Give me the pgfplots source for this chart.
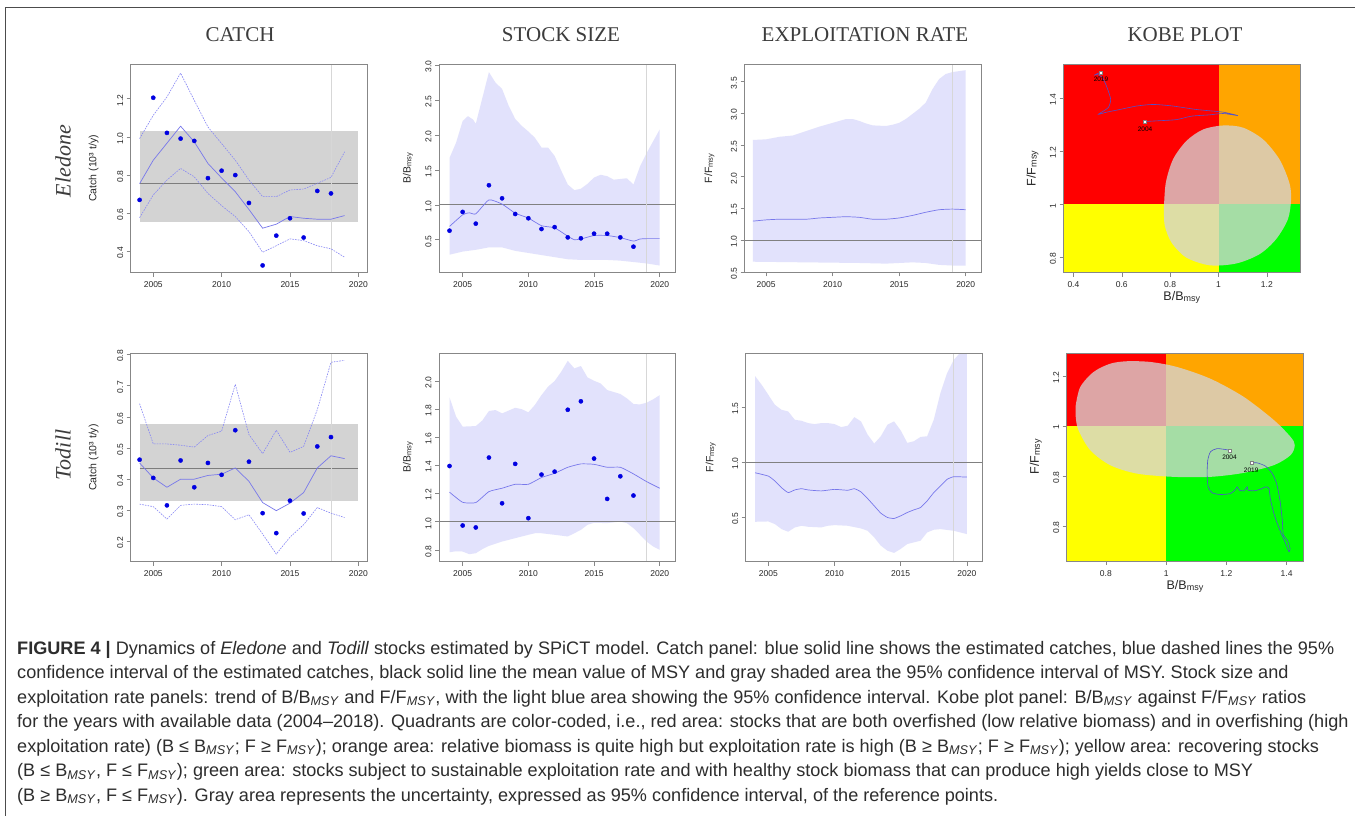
\documentclass[border=0pt]{standalone}
\usepackage{fontspec}
\setmainfont{Liberation Sans}
\newfontfamily\serifT{Liberation Serif}
\usepackage{pgfplots}
\pgfplotsset{compat=1.18}
\definecolor{band}{RGB}{226,226,252}
\definecolor{estline}{RGB}{120,120,235}
\definecolor{ciline}{RGB}{135,135,245}
\definecolor{ptblue}{RGB}{0,0,225}
\definecolor{msybox}{RGB}{211,211,211}
\definecolor{msyline}{RGB}{125,125,125}
\definecolor{refgray}{RGB}{128,128,128}
\definecolor{vgray}{RGB}{215,215,215}
\definecolor{framec}{RGB}{135,135,135}
\definecolor{txt}{RGB}{40,40,40}
\definecolor{kred}{RGB}{255,0,0}
\definecolor{korange}{RGB}{255,165,0}
\definecolor{kyellow}{RGB}{255,255,0}
\definecolor{kgreen}{RGB}{0,255,0}
\definecolor{ellgray}{RGB}{212,212,212}
\definecolor{traj}{RGB}{80,80,205}
\definecolor{captxt}{RGB}{45,45,45}
\definecolor{titletxt}{RGB}{60,60,60}
\newcommand\msy{\textsubscript{\textit{MSY}}}
\newcommand\Bm{B/B\raisebox{-0.8pt}{\fontsize{7.5}{8}\selectfont msy}}
\newcommand\Fm{F/F\raisebox{-0.8pt}{\fontsize{7.5}{8}\selectfont msy}}
\newcommand\Bk{B/B\raisebox{-1pt}{\fontsize{9}{10}\selectfont msy}}
\newcommand\Fk{F/F\raisebox{-1pt}{\fontsize{9}{10}\selectfont msy}}

\pgfplotsset{
  panel/.style={
    scale only axis, width=236.5pt, height=208pt,
    axis on top, clip=true,
    axis line style={framec, line width=0.6pt},
    tick style={framec, line width=0.5pt},
    tick align=outside, major tick length=4pt,
    xtick pos=bottom, ytick pos=left,
    /pgf/number format/assume math mode=true,
    ticklabel style={font=\fontsize{8.5}{9}\selectfont, text=txt},
    xticklabel style={yshift=-2pt},
    yticklabel style={rotate=90, anchor=south, xshift=-1.5pt},
    ylabel style={at={(axis description cs:0,0.5)}, anchor=center, font=\fontsize{10.5}{12}\selectfont, text=txt},
  },
  timepanel/.style={panel,
    xtick={2005,2010,2015,2020},
    /pgf/number format/1000 sep={},
    yticklabel style={/pgf/number format/fixed, /pgf/number format/fixed zerofill, /pgf/number format/precision=1},
  },
  kobe/.style={panel,
    xlabel style={at={(axis description cs:0.5,0)}, anchor=center, yshift=-25pt, font=\fontsize{12.5}{14}\selectfont, text=txt},
    ylabel style={yshift=31pt, font=\fontsize{12.5}{14}\selectfont},
    xlabel={\Bk}, ylabel={\Fk},
  },
  pts/.style={only marks, mark=*, mark size=2.1pt, ptblue, mark options={draw=ptblue, fill=ptblue}},
  est/.style={estline, line width=0.7pt, smooth, tension=0.3},
  ci/.style={ciline, line width=0.6pt, dash pattern=on 1.6pt off 1.1pt},
  refl/.style={refgray, line width=0.6pt},
  vl/.style={vgray, line width=0.6pt},
  bandfill/.style={fill=band, draw=none},
}

\begin{document}
\begin{tikzpicture}
\path[use as bounding box] (0pt,0pt) rectangle (1355pt,-816pt);
\fill[white] (0pt,0pt) rectangle (1355pt,-816pt);
\draw[gray!60!black, line width=0.8pt] (5pt,-816pt) -- (5pt,-7.5pt) -- (1355pt,-7.5pt);

% column titles
\begin{scope}[every node/.style={font=\serifT\fontsize{21}{24}\selectfont, text=titletxt}]
\node at (240pt,-35pt) {CATCH};
\node at (561pt,-35pt) {STOCK SIZE};
\node at (865pt,-35pt) {EXPLOITATION RATE};
\node at (1185pt,-35pt) {KOBE PLOT};
\end{scope}
% row labels
\node[rotate=90, font=\serifT\itshape\fontsize{22}{24}\selectfont, text=titletxt] at (63pt,-161pt) {Eledone};
\node[rotate=90, font=\serifT\itshape\fontsize{22}{24}\selectfont, text=titletxt] at (63pt,-455pt) {Todill};

% ===== P1: Eledone catch
\begin{axis}[timepanel, at={(130.7pt,-64.5pt)}, anchor=north west,
  xmin=2003.35, xmax=2020.65, ymin=0.29, ymax=1.379,
  ytick={0.4,0.6,0.8,1.0,1.2},
  ylabel={Catch (10³ t/y)}, ylabel style={yshift=37pt}]
\addplot[fill=msybox, draw=none] coordinates {(2004,0.557) (2020,0.557) (2020,1.030) (2004,1.030)} -- cycle;
\addplot[msyline, line width=0.7pt] coordinates {(2004,0.758) (2020,0.758)};
\addplot[vl] coordinates {(2018,0) (2018,2)};
\addplot[ci] coordinates {(2004,0.991)(2005,1.113)(2006,1.209)(2007,1.334)(2008,1.191)(2009,1.052)(2010,0.965)(2011,0.878)(2012,0.774)(2013,0.687)(2014,0.687)(2015,0.722)(2016,0.727)(2017,0.757)(2018,0.788)(2019,0.922)};
\addplot[ci] coordinates {(2004,0.577)(2005,0.696)(2006,0.774)(2007,0.835)(2008,0.791)(2009,0.704)(2010,0.640)(2011,0.583)(2012,0.504)(2013,0.396)(2014,0.430)(2015,0.466)(2016,0.457)(2017,0.430)(2018,0.414)(2019,0.370)};
\addplot[estline, line width=0.7pt] coordinates {(2004,0.755)(2005,0.878)(2006,0.967)(2007,1.056)(2008,0.974)(2009,0.861)(2010,0.785)(2011,0.713)(2012,0.620)(2013,0.522)(2014,0.543)(2015,0.583)(2016,0.574)(2017,0.569)(2018,0.569)(2019,0.588)};
\addplot[pts] coordinates {(2004,0.670)(2005,1.205)(2006,1.021)(2007,0.991)(2008,0.979)(2009,0.784)(2010,0.823)(2011,0.800)(2012,0.654)(2013,0.327)(2014,0.483)(2015,0.574)(2016,0.473)(2017,0.717)(2018,0.704)};
\end{axis}

% ===== P2: Eledone B/Bmsy
\begin{axis}[timepanel, at={(439pt,-64.5pt)}, anchor=north west,
  xmin=2003.2, xmax=2021.2, ymin=0.03, ymax=3.01,
  ytick={0.5,1.0,1.5,2.0,2.5,3.0},
  ylabel={\Bm}, ylabel style={yshift=31pt}]
\addplot[bandfill] coordinates {(2004,1.67)(2004.5,1.89)(2005,2.20)(2005.4,2.27)(2005.8,2.22)(2006,2.16)(2006.5,2.53)(2007,2.90)(2007.5,2.75)(2008,2.66)(2008.5,2.42)(2009,2.23)(2009.5,2.13)(2010,2.05)(2010.5,1.96)(2011,1.82)(2011.5,1.82)(2012,1.70)(2012.5,1.49)(2013,1.29)(2013.5,1.21)(2014,1.23)(2014.5,1.30)(2015,1.39)(2015.5,1.43)(2016,1.41)(2016.5,1.36)(2017,1.37)(2017.5,1.38)(2018,1.29)(2018.5,1.55)(2019,1.74)(2019.5,1.91)(2020,2.08)
 (2020,0.13)(2019,0.16)(2018,0.18)(2017,0.20)(2016,0.21)(2015,0.21)(2014,0.21)(2013,0.22)(2012,0.25)(2011,0.28)(2010,0.31)(2009,0.34)(2008,0.39)(2007,0.39)(2006,0.355)(2005,0.33)(2004,0.285)} -- cycle;
\addplot[refl] coordinates {(2000,1) (2025,1)};
\addplot[vl] coordinates {(2019,-1) (2019,5)};
\addplot[est] coordinates {(2004,0.69)(2005,0.857)(2005.5,0.885)(2006,0.87)(2007,1.07)(2008,1.01)(2009,0.88)(2010,0.81)(2011,0.70)(2012,0.67)(2013,0.55)(2013.5,0.50)(2014,0.51)(2015,0.56)(2016,0.56)(2017,0.53)(2018,0.48)(2018.5,0.51)(2019,0.515)(2020,0.515)};
\addplot[pts] coordinates {(2004,0.629)(2005,0.898)(2006,0.730)(2007,1.280)(2008,1.093)(2009,0.868)(2010,0.807)(2011,0.653)(2012,0.680)(2013,0.533)(2014,0.520)(2015,0.586)(2016,0.586)(2017,0.533)(2018,0.400)};
\end{axis}

% ===== P3: Eledone F/Fmsy
\begin{axis}[timepanel, at={(744.5pt,-64.5pt)}, anchor=north west,
  xmin=2003.37, xmax=2021.15, ymin=0.49, ymax=3.77,
  ytick={0.5,1.0,1.5,2.0,2.5,3.0,3.5},
  ylabel={\Fm}, ylabel style={yshift=35pt}]
\addplot[bandfill] coordinates {(2004,2.58)(2005,2.59)(2006,2.63)(2007,2.65)(2008,2.72)(2009,2.79)(2010,2.85)(2010.5,2.88)(2011,2.91)(2011.5,2.91)(2012,2.88)(2012.5,2.84)(2013,2.81)(2014,2.80)(2014.5,2.82)(2015,2.85)(2015.5,2.91)(2016,2.99)(2016.5,3.07)(2017,3.17)(2017.5,3.38)(2018,3.54)(2018.5,3.62)(2019,3.65)(2020,3.68)
 (2020,0.60)(2019,0.60)(2018,0.61)(2017,0.64)(2016,0.65)(2014,0.63)(2012,0.64)(2008,0.65)(2004,0.66)} -- cycle;
\addplot[refl] coordinates {(2000,1) (2025,1)};
\addplot[vl] coordinates {(2019,0) (2019,5)};
\addplot[est] coordinates {(2004,1.30)(2005,1.32)(2006,1.33)(2008,1.33)(2009,1.35)(2010,1.36)(2011,1.37)(2012,1.36)(2013,1.33)(2014,1.33)(2015,1.35)(2016,1.39)(2017,1.44)(2018,1.48)(2019,1.49)(2020,1.48)};
\end{axis}

% ===== P4: Eledone Kobe
\begin{axis}[kobe, at={(1063.5pt,-64.5pt)}, anchor=north west,
  xmin=0.359, xmax=1.337, ymin=0.744, ymax=1.525,
  xtick={0.4,0.6,0.8,1,1.2}, ytick={0.8,1,1.2,1.4}]
\addplot[fill=kred, draw=none] coordinates {(0,1)(1,1)(1,2)(0,2)} -- cycle;
\addplot[fill=korange, draw=none] coordinates {(1,1)(2,1)(2,2)(1,2)} -- cycle;
\addplot[fill=kyellow, draw=none] coordinates {(0,0)(1,0)(1,1)(0,1)} -- cycle;
\addplot[fill=kgreen, draw=none] coordinates {(1,0)(2,0)(2,1)(1,1)} -- cycle;
\addplot[fill=ellgray, fill opacity=0.78, draw=none, smooth] coordinates {(0.774,0.981)(0.782,1.081)(0.812,1.169)(0.867,1.238)(0.936,1.281)(1.019,1.296)(1.101,1.288)(1.184,1.244)(1.252,1.169)(1.293,1.081)(1.300,1.019)(1.287,0.944)(1.238,0.869)(1.170,0.813)(1.074,0.778)(0.964,0.771)(0.867,0.800)(0.806,0.856)(0.778,0.919)(0.774,0.981)} -- cycle;
\addplot[traj, line width=0.6pt, smooth, tension=0.4] coordinates {(0.696,1.311)(0.757,1.314)(0.826,1.318)(0.888,1.331)(0.964,1.336)(1.019,1.341)(1.080,1.333)(1.019,1.346)(0.909,1.356)(0.812,1.369)(0.730,1.375)(0.661,1.369)(0.592,1.356)(0.537,1.346)(0.503,1.338)(0.544,1.363)(0.554,1.394)(0.542,1.431)(0.531,1.456)(0.517,1.479)(0.496,1.488)(0.485,1.484)(0.499,1.491)(0.514,1.496)};
\addplot[only marks, mark=square*, mark size=1.5pt, mark options={fill=white, draw=gray, line width=0.3pt},
  nodes near coords, point meta=explicit symbolic,
  every node near coord/.style={anchor=north, font=\fontsize{6.5}{7}\selectfont, text=black, yshift=-1.5pt}]
  coordinates {(0.696,1.311)[2004] (0.514,1.496)[2019]};
\end{axis}

% ===== P5: Todill catch
\begin{axis}[timepanel, at={(130.7pt,-353.5pt)}, anchor=north west,
  xmin=2003.35, xmax=2020.65, ymin=0.136, ymax=0.803,
  ytick={0.2,0.3,0.4,0.5,0.6,0.7,0.8},
  ylabel={Catch (10³ t/y)}, ylabel style={yshift=37pt}]
\addplot[fill=msybox, draw=none] coordinates {(2004,0.329) (2020,0.329) (2020,0.577) (2004,0.577)} -- cycle;
\addplot[msyline, line width=0.7pt] coordinates {(2004,0.436) (2020,0.436)};
\addplot[vl] coordinates {(2018,0) (2018,2)};
\addplot[ci] coordinates {(2004,0.642)(2005,0.513)(2006,0.513)(2007,0.509)(2008,0.503)(2009,0.540)(2010,0.554)(2011,0.704)(2012,0.543)(2013,0.482)(2014,0.557)(2015,0.486)(2016,0.505)(2017,0.623)(2018,0.775)(2019,0.781)};
\addplot[ci] coordinates {(2004,0.320)(2005,0.312)(2006,0.272)(2007,0.316)(2008,0.320)(2009,0.318)(2010,0.312)(2011,0.270)(2012,0.286)(2013,0.224)(2014,0.160)(2015,0.214)(2016,0.254)(2017,0.309)(2018,0.291)(2019,0.277)};
\addplot[estline, line width=0.7pt] coordinates {(2004,0.452)(2005,0.404)(2006,0.374)(2007,0.400)(2008,0.400)(2009,0.412)(2010,0.416)(2011,0.436)(2012,0.393)(2013,0.325)(2014,0.299)(2015,0.323)(2016,0.357)(2017,0.436)(2018,0.475)(2019,0.466)};
\addplot[pts] coordinates {(2004,0.4625)(2005,0.404)(2006,0.316)(2007,0.460)(2008,0.374)(2009,0.452)(2010,0.414)(2011,0.557)(2012,0.456)(2013,0.291)(2014,0.227)(2015,0.331)(2016,0.290)(2017,0.505)(2018,0.535)};
\end{axis}

% ===== P6: Todill B/Bmsy
\begin{axis}[timepanel, at={(439pt,-353.5pt)}, anchor=north west,
  xmin=2003.2, xmax=2021.2, ymin=0.717, ymax=2.196,
  ytick={0.8,1.0,1.2,1.4,1.6,1.8,2.0},
  ylabel={\Bm}, ylabel style={yshift=31pt}]
\addplot[bandfill] coordinates {(2004,1.884)(2004.5,1.747)(2005,1.676)(2006,1.68)(2006.5,1.72)(2007,1.787)(2007.5,1.794)(2008,1.77)(2008.5,1.79)(2009,1.81)(2009.5,1.80)(2010,1.778)(2010.5,1.83)(2011,1.90)(2011.5,1.96)(2012,2.0)(2012.5,2.066)(2013,2.144)(2013.5,2.09)(2014,2.107)(2014.5,2.026)(2015,2.002)(2015.5,1.983)(2016,1.936)(2017,1.908)(2017.5,1.877)(2018,1.837)(2018.5,1.834)(2019,1.846)(2019.5,1.87)(2020,1.90)
 (2020,0.80)(2019.5,0.824)(2019,0.859)(2018.5,0.907)(2018,0.954)(2017.5,0.99)(2017,1.001)(2016,0.99)(2015,0.992)(2014.5,0.978)(2014,0.942)(2013.5,0.918)(2013,0.895)(2012,0.907)(2011,0.918)(2010.5,0.918)(2010,0.907)(2009,0.883)(2008,0.859)(2007,0.828)(2006.5,0.805)(2006,0.776)(2005.5,0.769)(2005,0.788)(2004.5,0.79)(2004,0.783)} -- cycle;
\addplot[refl] coordinates {(2000,1) (2025,1)};
\addplot[vl] coordinates {(2019,0) (2019,5)};
\addplot[est] coordinates {(2004,1.21)(2005,1.138)(2006,1.136)(2007,1.214)(2008,1.238)(2009,1.266)(2010,1.266)(2011,1.314)(2012,1.344)(2013,1.387)(2014,1.411)(2015,1.408)(2016,1.387)(2017,1.387)(2018,1.34)(2019,1.285)(2020,1.238)};
\addplot[pts] coordinates {(2004,1.396)(2005,0.973)(2006,0.959)(2007,1.456)(2008,1.131)(2009,1.411)(2010,1.025)(2011,1.335)(2012,1.356)(2013,1.796)(2014,1.856)(2015,1.449)(2016,1.162)(2017,1.323)(2018,1.186)};
\end{axis}

% ===== P7: Todill F/Fmsy
\begin{axis}[timepanel, at={(745.7pt,-353.5pt)}, anchor=north west,
  xmin=2003.29, xmax=2021.16, ymin=0.102, ymax=1.982,
  ytick={0.5,1.0,1.5},
  ylabel={\Fm}, ylabel style={yshift=35pt}]
\addplot[bandfill] coordinates {(2004,1.778)(2004.5,1.698)(2005,1.608)(2005.5,1.518)(2006,1.473)(2006.5,1.458)(2007,1.383)(2007.5,1.374)(2008,1.353)(2008.5,1.344)(2009,1.353)(2009.5,1.353)(2010,1.344)(2010.5,1.317)(2011,1.329)(2011.5,1.407)(2012,1.368)(2012.5,1.249)(2013,1.168)(2013.5,1.234)(2014,1.338)(2014.5,1.368)(2015,1.287)(2015.5,1.174)(2016,1.189)(2016.5,1.228)(2017,1.234)(2017.5,1.383)(2018,1.623)(2018.5,1.802)(2019,1.922)(2019.5,1.99)(2020,2.02)
 (2020,0.35)(2019,0.38)(2018,0.395)(2017.5,0.389)(2017,0.365)(2016.5,0.29)(2016,0.275)(2015.5,0.26)(2015,0.216)(2014.5,0.18)(2014,0.2)(2013.5,0.245)(2013,0.32)(2012.5,0.38)(2012,0.401)(2011,0.425)(2010,0.431)(2009.5,0.425)(2009,0.41)(2008,0.416)(2007.5,0.425)(2007,0.41)(2006.5,0.371)(2006,0.395)(2005.5,0.44)(2005,0.464)(2004,0.461)} -- cycle;
\addplot[refl] coordinates {(2000,1) (2025,1)};
\addplot[vl] coordinates {(2019,0) (2019,5)};
\addplot[est] coordinates {(2004,0.904)(2005,0.874)(2005.5,0.829)(2006,0.769)(2006.5,0.725)(2007,0.749)(2007.5,0.760)(2008,0.749)(2009,0.740)(2010,0.754)(2011,0.746)(2011.5,0.760)(2012,0.731)(2012.5,0.671)(2013,0.605)(2013.5,0.539)(2014,0.5)(2014.5,0.491)(2015,0.515)(2015.5,0.545)(2016,0.569)(2016.5,0.59)(2017,0.65)(2017.5,0.725)(2018,0.784)(2018.5,0.844)(2019,0.868)(2020,0.865)};
\end{axis}

% ===== P8: Todill Kobe
\begin{axis}[kobe, at={(1066.7pt,-353pt)}, anchor=north west,
  xmin=0.670, xmax=1.455, ymin=0.459, ymax=1.292,
  xtick={0.8,1,1.2,1.4}, ytick={0.6,0.8,1,1.2}, yticklabels={0.8,0.8,1,1.2}]
\addplot[fill=kred, draw=none] coordinates {(0,1)(1,1)(1,2)(0,2)} -- cycle;
\addplot[fill=korange, draw=none] coordinates {(1,1)(2,1)(2,2)(1,2)} -- cycle;
\addplot[fill=kyellow, draw=none] coordinates {(0,0)(1,0)(1,1)(0,1)} -- cycle;
\addplot[fill=kgreen, draw=none] coordinates {(1,0)(2,0)(2,1)(1,1)} -- cycle;
\addplot[fill=ellgray, fill opacity=0.78, draw=none, smooth] coordinates {(0.700,1.083)(0.715,1.156)(0.759,1.216)(0.814,1.249)(0.870,1.259)(0.948,1.256)(1.036,1.236)(1.147,1.189)(1.258,1.116)(1.358,1.023)(1.413,0.956)(1.427,0.923)(1.413,0.883)(1.358,0.843)(1.258,0.812)(1.147,0.796)(1.025,0.796)(0.903,0.809)(0.814,0.843)(0.748,0.903)(0.709,0.983)(0.700,1.036)(0.700,1.083)} -- cycle;
\addplot[traj, line width=0.6pt, smooth, tension=0.4] coordinates {(1.2103,0.9027)(1.1693,0.9093)(1.1471,0.896)(1.1383,0.8627)(1.1360,0.8093)(1.1394,0.756)(1.1527,0.732)(1.1804,0.7253)(1.2137,0.7293)(1.2303,0.7453)(1.2358,0.756)(1.2425,0.7427)(1.2580,0.74)(1.2647,0.7493)(1.2691,0.756)(1.2713,0.7427)(1.2913,0.74)(1.3135,0.7467)(1.3301,0.756)(1.3412,0.7493)(1.3467,0.7027)(1.3578,0.6493)(1.3689,0.6093)(1.3822,0.5693)(1.3967,0.5293)(1.4077,0.496)(1.4111,0.5093)(1.4022,0.5427)(1.3889,0.5627)(1.3856,0.6227)(1.3778,0.7027)(1.3667,0.7693)(1.3523,0.8093)(1.3301,0.8387)(1.3024,0.852)(1.2824,0.852)};
\addplot[only marks, mark=square*, mark size=1.5pt, mark options={fill=white, draw=gray, line width=0.3pt},
  nodes near coords, point meta=explicit symbolic,
  every node near coord/.style={anchor=north, font=\fontsize{6.5}{7}\selectfont, text=black, yshift=-1.5pt}]
  coordinates {(1.2103,0.9027)[2004] (1.2824,0.852)[2019]};
\end{axis}

% caption
\begin{scope}[every node/.style={anchor=base west, inner sep=0pt, font=\fontsize{18.1}{20}\selectfont, text=captxt}]
\node at (17pt,-654pt) {\textbf{FIGURE 4 |} Dynamics of \textit{Eledone} and \textit{Todill} stocks estimated by SPiCT model. Catch panel: blue solid line shows the estimated catches, blue dashed lines the 95\%};
\node at (17pt,-678.5pt) {confidence interval of the estimated catches, black solid line the mean value of MSY and gray shaded area the 95\% confidence interval of MSY. Stock size and};
\node at (17pt,-703pt) {exploitation rate panels: trend of B/B\msy{} and F/F\msy, with the light blue area showing the 95\% confidence interval. Kobe plot panel: B/B\msy{} against F/F\msy{} ratios};
\node at (17pt,-727.5pt) {for the years with available data (2004–2018). Quadrants are color-coded, i.e., red area: stocks that are both overfished (low relative biomass) and in overfishing (high};
\node at (17pt,-752pt) {exploitation rate) (B ≤ B\msy; F ≥ F\msy); orange area: relative biomass is quite high but exploitation rate is high (B ≥ B\msy; F ≥ F\msy); yellow area: recovering stocks};
\node at (17pt,-776.5pt) {(B ≤ B\msy, F ≤ F\msy); green area: stocks subject to sustainable exploitation rate and with healthy stock biomass that can produce high yields close to MSY};
\node at (17pt,-801pt) {(B ≥ B\msy, F ≤ F\msy). Gray area represents the uncertainty, expressed as 95\% confidence interval, of the reference points.};
\end{scope}
\end{tikzpicture}
\end{document}
